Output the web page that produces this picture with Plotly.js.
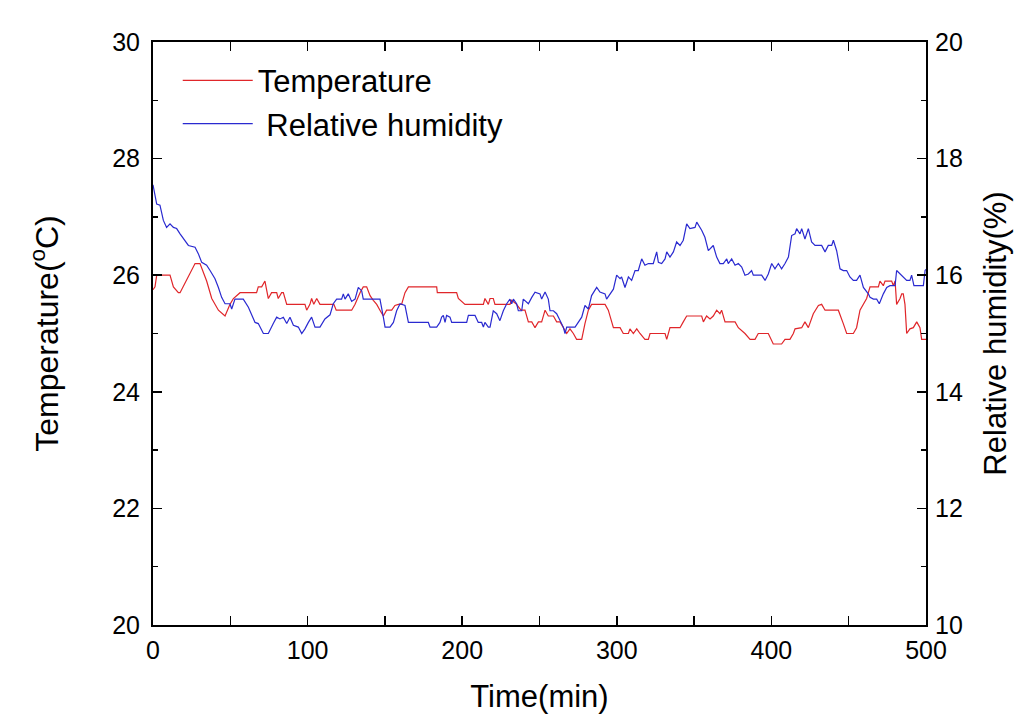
<!DOCTYPE html>
<html>
<head>
<meta charset="utf-8">
<script src="https://cdn.plot.ly/plotly-3.0.1.min.js"></script>
<style>html,body{margin:0;padding:0;background:#fff;}#chart{width:1022px;height:722px;}</style>
</head>
<body>
<div id="chart"></div>
<script>
// Temperature series (time in min, temperature in °C)
var tempTime = [0,1.3,2.4,11,13.2,16.4,17.5,27.2,30.4,34.7,38,42.3,46.6,49.8,52,56.3,67,68.1,70.3,72.4,74.6,76.7,80,81,83.2,84.3,86.5,98.3,99.4,101.5,102.6,104,105.9,108,117,118.5,128.5,130.7,133.9,136,138.2,140.4,142.5,144.7,146.8,149,151.1,154.4,156.5,158.7,160.8,163,165.2,183.5,183.9,196.4,197.5,201.8,213.7,214.7,216.9,218,220.1,221.2,230.9,232,235.2,238,240.6,242.8,245,247.1,249.3,251.4,253.6,255.7,259,261.1,263.3,265.4,267.6,269.7,271.9,274,277.3,279.4,281.6,283.7,292.4,294.5,295.6,297.8,302.1,304.2,307.5,308.5,310.7,312.9,315,318.2,320.4,321.5,331.2,332.3,334.4,340.9,343,345.2,354.9,356,358.1,360.3,362.4,364.6,366.7,367.8,370,376.5,378.6,382.9,386.2,389.4,391.5,398,401.2,406.6,408.8,412,414.2,415.3,419.6,421.7,423.9,427.1,430.4,432.5,434.7,443.3,446.5,448.7,453,455.1,457.3,459.5,461.6,463.8,469.2,470.2,472.4,473.5,477.8,478.9,480,481,483.2,484.3,485.3,486.4,487.5,489.6,491.8,494,496.1,497.2,500];
var tempVal = [25.75,25.8,26.0,26.0,25.8,25.7,25.7,26.2,26.2,25.9,25.6,25.4,25.3,25.5,25.6,25.7,25.7,25.8,25.8,25.9,25.6,25.7,25.7,25.6,25.7,25.7,25.5,25.5,25.4,25.5,25.6,25.5,25.6,25.5,25.5,25.4,25.4,25.5,25.7,25.8,25.8,25.65,25.57,25.5,25.4,25.3,25.4,25.4,25.48,25.5,25.5,25.7,25.8,25.8,25.7,25.7,25.6,25.5,25.5,25.6,25.5,25.6,25.6,25.5,25.5,25.57,25.5,25.4,25.4,25.2,25.2,25.1,25.2,25.2,25.4,25.3,25.3,25.2,25.2,25.1,25.0,25.08,25.0,24.9,24.9,25.17,25.4,25.5,25.5,25.4,25.3,25.1,25.1,25.0,25.0,25.08,25.0,25.08,25.0,24.9,24.9,25.0,25.0,24.9,25.1,25.1,25.2,25.3,25.3,25.2,25.3,25.25,25.3,25.4,25.34,25.4,25.2,25.2,25.1,25.0,24.9,24.9,25.0,25.0,24.82,24.82,24.9,24.9,25.0,25.08,25.1,25.2,25.1,25.34,25.48,25.5,25.4,25.4,25.17,25.0,25.0,25.1,25.4,25.5,25.6,25.8,25.8,25.9,25.82,25.9,25.9,25.82,25.9,25.5,25.6,25.68,25.68,25.5,25.0,25.08,25.1,25.2,25.1,24.9,24.9];

// Relative humidity series (time in min, RH in %)
var humTime = [0,2.4,4.5,6.7,8.8,11,13.2,15.3,17.5,20.7,22.9,27.2,29.3,31.5,34.7,36.9,40.1,42.3,44.4,46.6,49.8,50.9,53,58.4,61.7,66,68.1,71.4,74.6,77.8,80,82.1,84.3,86.5,88.6,90.8,94,96.2,98.3,100.5,102.6,104.8,108,111.2,114.5,116.6,118.8,122,123.1,124.2,126.3,128.5,130.7,132.8,135,136,146.8,149,150.1,153.3,155.5,157.6,159.8,163,165.2,178.1,179.2,183.5,185.6,186.7,187.8,188.9,189.9,192.1,193.2,202.9,204,208.3,210.4,212.6,213.7,214.7,216.9,218,220.1,222.3,224.4,226.6,228.8,230.9,232,233.1,235.2,236.3,238.5,239.5,242.8,245,247.1,250.3,251.4,253.6,255.7,256.8,259,261.1,263.3,265.4,266.5,267.6,273,275.1,277.3,279.4,281.6,283.7,285.9,287,289.1,292.4,293.4,295.6,297.8,299.9,302.1,303.1,305.3,307.5,309.6,311.8,313.9,316.1,318.2,320.4,323.6,325.8,326.9,329,331.2,332.3,334.4,336.6,338.7,340.9,343,345.2,347.3,350.6,351.7,354.9,357,359.2,361.4,362.4,364.6,366.7,368.9,371.1,372.1,374.3,376.5,378.6,380.8,382.9,385.1,387.2,388.3,393.7,395.9,398,400.2,402.3,404.5,406.6,408.8,411,413.1,415.3,416.3,418.5,419.6,421.7,423.9,426,428.2,432.5,434.7,436.8,439,440.1,442.2,444.4,446.5,448.7,450.8,453,455.1,457.3,459.5,462.7,463.8,466,468.1,469.8,472.4,474.6,476.7,480,481,483.2,484.3,487.5,489.6,490.7,492.2,498.3,499.4,500];
var humVal = [17.55,17.22,17.2,16.94,16.82,16.88,16.82,16.8,16.71,16.6,16.51,16.48,16.37,16.22,16.17,16.08,15.94,15.79,15.62,15.51,15.51,15.42,15.59,15.59,15.45,15.19,15.17,15.0,15.0,15.17,15.28,15.25,15.28,15.17,15.28,15.14,15.11,15.0,15.08,15.19,15.28,15.11,15.11,15.25,15.32,15.51,15.59,15.59,15.68,15.59,15.68,15.55,15.59,15.79,15.73,15.59,15.59,15.28,15.11,15.11,15.19,15.39,15.51,15.48,15.19,15.19,15.11,15.11,15.19,15.28,15.31,15.19,15.31,15.28,15.19,15.19,15.31,15.31,15.19,15.19,15.11,15.19,15.11,15.11,15.39,15.34,15.22,15.39,15.51,15.59,15.51,15.59,15.51,15.39,15.39,15.59,15.51,15.62,15.71,15.68,15.59,15.71,15.59,15.39,15.39,15.34,15.22,15.11,15.0,15.11,15.11,15.19,15.28,15.48,15.42,15.65,15.73,15.79,15.71,15.68,15.59,15.68,15.76,16.0,15.94,15.97,15.79,15.97,15.91,16.08,16.08,16.28,16.17,16.2,16.2,16.4,16.22,16.2,16.28,16.4,16.31,16.4,16.57,16.51,16.6,16.88,16.8,16.82,16.91,16.77,16.65,16.42,16.48,16.51,16.31,16.2,16.2,16.28,16.2,16.28,16.17,16.2,16.14,16.0,16.02,16.08,16.0,16.0,15.91,16.02,16.2,16.11,16.2,16.11,16.2,16.31,16.68,16.71,16.8,16.71,16.8,16.62,16.8,16.57,16.51,16.51,16.4,16.51,16.51,16.6,16.42,16.11,16.08,16.08,15.97,15.91,15.91,16.0,15.79,15.68,15.62,15.59,15.59,15.51,15.68,15.79,15.82,15.82,16.08,16.02,16.0,15.91,15.91,16.0,15.82,15.82,16.08,16.1];

var xTickVals = [0,100,200,300,400,500];
var tempTicks = [20,22,24,26,28,30];
var humTicks = [10,12,14,16,18,20];

var FONT = 'Arial, "Liberation Sans", sans-serif';

var traces = [
  {x: tempTime, y: tempVal, type: 'scatter', mode: 'lines', name: 'Temperature',
   line: {color: '#e0262a', width: 1.2}, yaxis: 'y'},
  {x: humTime, y: humVal, type: 'scatter', mode: 'lines', name: '\u00a0Relative humidity',
   line: {color: '#2a2ad0', width: 1.2}, yaxis: 'y2'}
];

var axisCommon = {
  showgrid: false, zeroline: false, showline: true, linecolor: '#000', linewidth: 2,
  ticks: 'inside', ticklen: 9, tickwidth: 1.5, tickcolor: '#000',
  tickfont: {family: FONT, size: 25, color: '#000'}
};

var layout = {
  width: 1022, height: 722,
  margin: {l: 153, r: 96, t: 42, b: 97},
  paper_bgcolor: '#fff', plot_bgcolor: '#fff',
  font: {family: FONT, color: '#000'},
  showlegend: true,
  legend: {x: 0.032, y: 0.98, xanchor: 'left', yanchor: 'top', bgcolor: 'rgba(0,0,0,0)',
           font: {family: FONT, size: 31, color: '#000'}, itemwidth: 70, tracegroupgap: 0},
  xaxis: Object.assign({}, axisCommon, {
    range: [0, 500], tickvals: xTickVals, mirror: 'allticks', ticklabelstandoff: 2,
    minor: {dtick: 50, ticks: 'inside', ticklen: 5, tickwidth: 1.5, tickcolor: '#000'},
    title: {text: 'Time(min)', font: {family: FONT, size: 31, color: '#000'}, standoff: 22}
  }),
  yaxis: Object.assign({}, axisCommon, {
    range: [20, 30], tickvals: tempTicks, mirror: true, ticklabelstandoff: 6,
    minor: {dtick: 1, ticks: 'inside', ticklen: 5, tickwidth: 1.5, tickcolor: '#000'},
    title: {text: 'Temperature(<sup>o</sup>C)', font: {family: FONT, size: 32, color: '#000'}, standoff: 44}
  }),
  yaxis2: Object.assign({}, axisCommon, {
    range: [10, 20], tickvals: humTicks, overlaying: 'y', side: 'right', anchor: 'x', ticklabelstandoff: 2,
    minor: {dtick: 1, ticks: 'inside', ticklen: 5, tickwidth: 1.5, tickcolor: '#000'},
    title: {text: 'Relative humidity(%)', font: {family: FONT, size: 31, color: '#000'}, standoff: 22}
  })
};

Plotly.newPlot('chart', traces, layout, {displayModeBar: false, staticPlot: true});
</script>
</body>
</html>
